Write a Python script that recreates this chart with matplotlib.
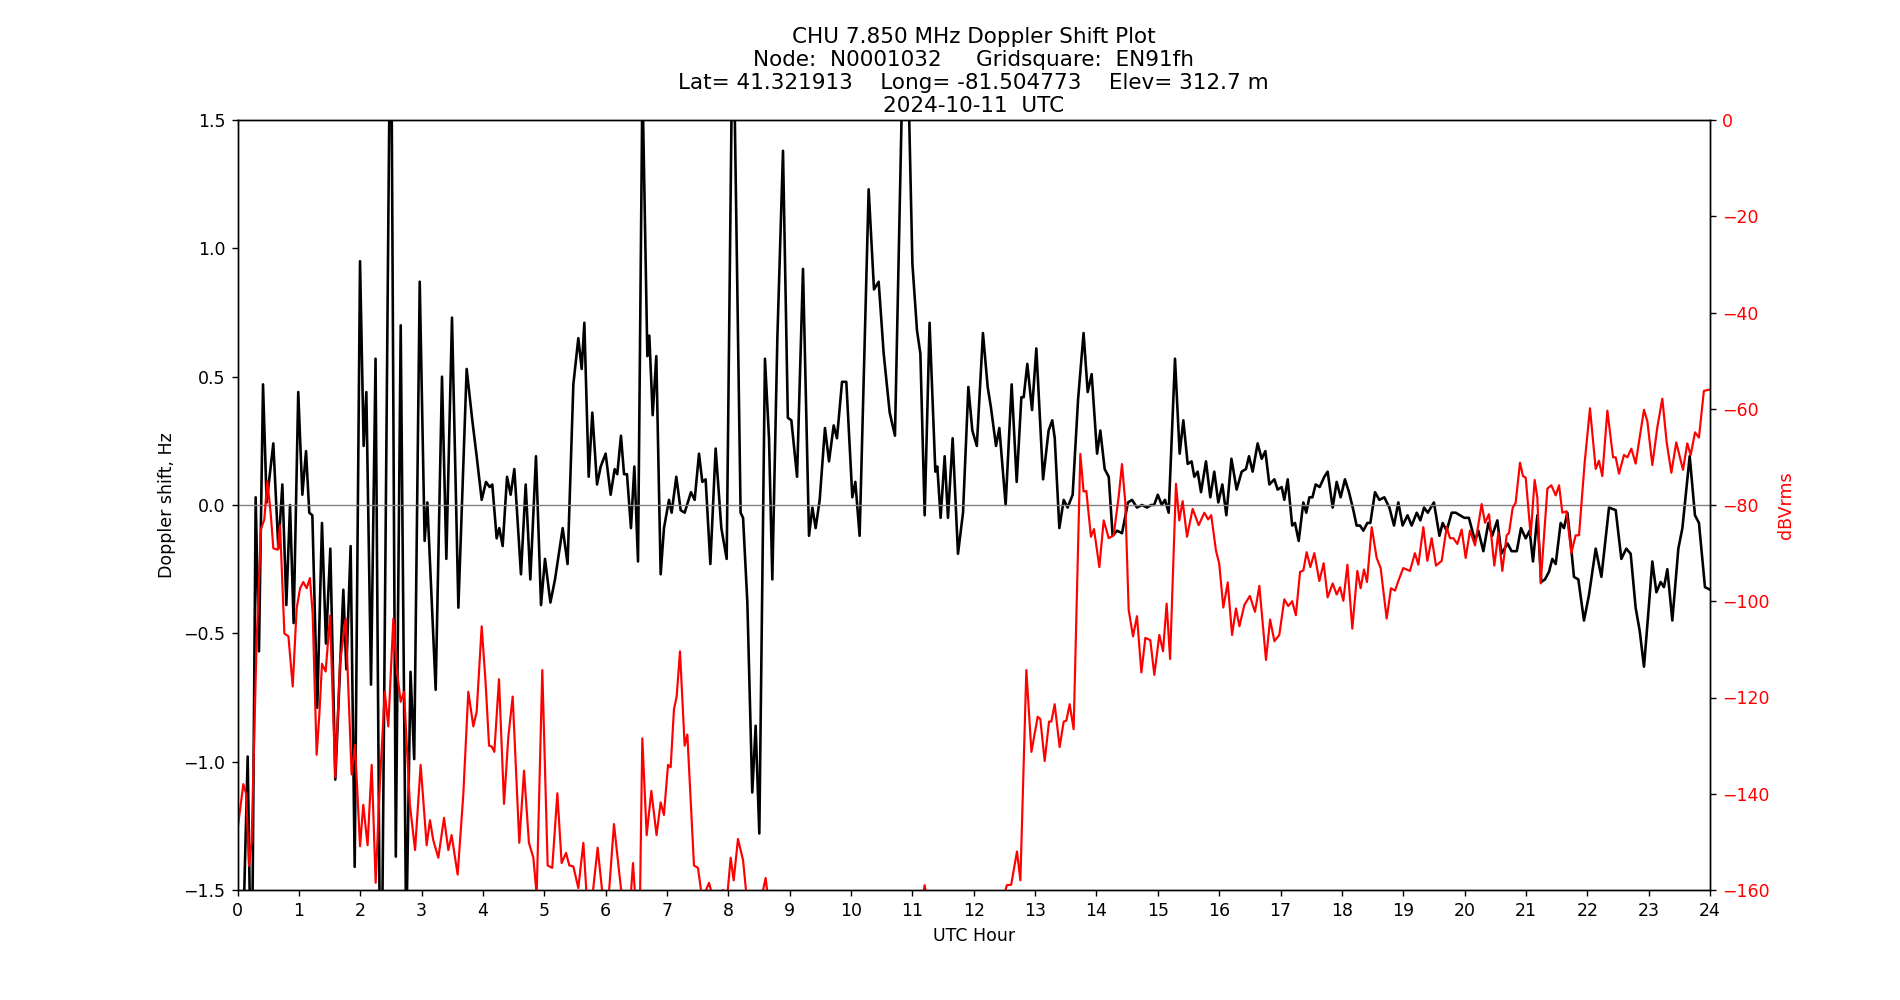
"""
CHU Doppler shift plot for one day (node N0001032).
Left axis: Doppler shift (Hz), right axis: received level (dBVrms).
"""

import matplotlib
matplotlib.use("Agg")
import matplotlib.pyplot as plt

TITLE = (
    "CHU 7.850 MHz Doppler Shift Plot\n"
    "Node:  N0001032     Gridsquare:  EN91fh\n"
    "Lat= 41.321913    Long= -81.504773    Elev= 312.7 m\n"
    "2024-10-11  UTC"
)

# Doppler shift trace (UTC hour, Hz)
doppler_hours = [
    0.0, 0.1, 0.166, 0.21, 0.24, 0.296, 0.35, 0.416, 0.475, 0.584, 0.666, 0.731,
    0.796, 0.856, 0.915, 0.99, 1.057, 1.117, 1.17, 1.22, 1.30, 1.377, 1.442,
    1.513, 1.594, 1.725, 1.774, 1.844, 1.91, 1.997, 2.056, 2.10, 2.176, 2.25,
    2.32, 2.36, 2.48, 2.51, 2.58, 2.66, 2.75, 2.82, 2.88, 2.97, 3.05, 3.094,
    3.23, 3.333, 3.404, 3.496, 3.60, 3.735, 3.827, 3.898, 3.98, 4.05, 4.11,
    4.153, 4.224, 4.267, 4.322, 4.393, 4.452, 4.512, 4.62, 4.697, 4.773, 4.865,
    4.947, 5.012, 5.10, 5.175, 5.30, 5.38, 5.474, 5.555, 5.61, 5.653, 5.724,
    5.783, 5.86, 5.92, 6.0, 6.082, 6.147, 6.19, 6.25, 6.30, 6.348, 6.413, 6.468,
    6.528, 6.60, 6.68, 6.712, 6.767, 6.826, 6.897, 6.951, 7.033, 7.076, 7.152,
    7.223, 7.288, 7.391, 7.451, 7.522, 7.576, 7.63, 7.707, 7.793, 7.886, 7.973,
    8.06, 8.10, 8.20, 8.24, 8.31, 8.39, 8.445, 8.505, 8.597, 8.663, 8.717,
    8.799, 8.891, 8.97, 9.027, 9.12, 9.217, 9.315, 9.37, 9.423, 9.489, 9.575,
    9.641, 9.717, 9.771, 9.853, 9.923, 10.021, 10.07, 10.14, 10.287, 10.374,
    10.45, 10.532, 10.63, 10.716, 10.84, 10.93, 11.0, 11.075, 11.13, 11.2,
    11.28, 11.374, 11.406, 11.46, 11.526, 11.58, 11.656, 11.743, 11.825,
    11.912, 11.977, 12.05, 12.15, 12.227, 12.28, 12.363, 12.417, 12.52, 12.618,
    12.70, 12.776, 12.814, 12.873, 12.95, 13.02, 13.13, 13.22, 13.28, 13.32,
    13.395, 13.466, 13.53, 13.612, 13.70, 13.79, 13.857, 13.922, 14.01, 14.063,
    14.134, 14.20, 14.264, 14.335, 14.416, 14.514, 14.58, 14.66, 14.742,
    14.824, 14.89, 14.94, 15.0, 15.063, 15.117, 15.177, 15.28, 15.356, 15.416,
    15.487, 15.55, 15.595, 15.65, 15.704, 15.785, 15.856, 15.92, 15.986,
    16.052, 16.117, 16.20, 16.285, 16.367, 16.437, 16.486, 16.546, 16.627,
    16.693, 16.753, 16.818, 16.90, 16.953, 17.019, 17.062, 17.117, 17.19,
    17.236, 17.296, 17.372, 17.42, 17.47, 17.52, 17.573, 17.638, 17.714,
    17.768, 17.85, 17.915, 17.98, 18.05, 18.116, 18.187, 18.24, 18.295, 18.35,
    18.415, 18.464, 18.54, 18.61, 18.692, 18.774, 18.85, 18.92, 18.99, 19.07,
    19.137, 19.22, 19.279, 19.34, 19.40, 19.50, 19.59, 19.643, 19.708, 19.79,
    19.855, 19.925, 19.996, 20.07, 20.17, 20.224, 20.306, 20.387, 20.45,
    20.534, 20.60, 20.70, 20.767, 20.85, 20.92, 20.996, 21.06, 21.115, 21.186,
    21.25, 21.31, 21.376, 21.43, 21.485, 21.566, 21.62, 21.675, 21.73, 21.783,
    21.854, 21.946, 22.028, 22.137, 22.23, 22.354, 22.463, 22.555, 22.636,
    22.707, 22.788, 22.854, 22.924, 22.995, 23.06, 23.126, 23.196, 23.25,
    23.305, 23.386, 23.484, 23.55, 23.669, 23.755, 23.82, 23.918, 24.0,
]
doppler_hz = [
    -1.7, -1.6, -0.98, -1.7, -1.7, 0.03, -0.57, 0.47, 0.01, 0.24, -0.17, 0.08,
    -0.39, 0.0, -0.46, 0.44, 0.04, 0.21, -0.03, -0.04, -0.79, -0.07, -0.54,
    -0.17, -1.07, -0.33, -0.64, -0.16, -1.41, 0.95, 0.23, 0.44, -0.70, 0.57,
    -1.7, -1.6, 1.7, 1.7, -1.37, 0.70, -1.7, -0.65, -0.99, 0.87, -0.14, 0.01,
    -0.72, 0.50, -0.21, 0.73, -0.40, 0.53, 0.33, 0.19, 0.02, 0.09, 0.07,
    0.08, -0.13, -0.09, -0.16, 0.11, 0.04, 0.14, -0.27, 0.08, -0.29, 0.19,
    -0.39, -0.21, -0.38, -0.29, -0.09, -0.23, 0.47, 0.65, 0.53, 0.71, 0.11,
    0.36, 0.08, 0.15, 0.20, 0.04, 0.14, 0.12, 0.27, 0.12, 0.12, -0.09, 0.15,
    -0.22, 1.65, 0.58, 0.66, 0.35, 0.58, -0.27, -0.09, 0.02, -0.03, 0.11,
    -0.02, -0.03, 0.05, 0.02, 0.20, 0.09, 0.10, -0.23, 0.22, -0.09, -0.21,
    1.7, 1.6, -0.03, -0.05, -0.38, -1.12, -0.86, -1.28, 0.57, 0.26, -0.29,
    0.65, 1.38, 0.34, 0.33, 0.11, 0.92, -0.12, -0.01, -0.09, 0.02, 0.30,
    0.17, 0.31, 0.26, 0.48, 0.48, 0.03, 0.09, -0.12, 1.23, 0.84,
    0.87, 0.59, 0.36, 0.27, 1.7, 1.7, 0.94, 0.68, 0.59, -0.04,
    0.71, 0.13, 0.15, -0.05, 0.19, -0.05, 0.26, -0.19, -0.03,
    0.46, 0.29, 0.23, 0.67, 0.46, 0.38, 0.23, 0.30, 0.0, 0.47,
    0.09, 0.42, 0.42, 0.55, 0.37, 0.61, 0.10, 0.29, 0.33, 0.26,
    -0.09, 0.02, -0.01, 0.04, 0.41, 0.67, 0.44, 0.51, 0.20, 0.29,
    0.14, 0.11, -0.12, -0.10, -0.11, 0.01, 0.02, -0.01, 0.0,
    -0.01, 0.0, 0.0, 0.04, 0.0, 0.02, -0.03, 0.57, 0.20, 0.33,
    0.16, 0.17, 0.11, 0.13, 0.05, 0.17, 0.03, 0.13, 0.01,
    0.08, -0.04, 0.18, 0.06, 0.13, 0.14, 0.19, 0.13, 0.24,
    0.18, 0.21, 0.08, 0.10, 0.06, 0.07, 0.02, 0.10, -0.08,
    -0.07, -0.14, 0.01, -0.03, 0.03, 0.03, 0.08, 0.07, 0.11,
    0.13, -0.01, 0.09, 0.03, 0.10, 0.05, -0.02, -0.08, -0.08, -0.10,
    -0.07, -0.07, 0.05, 0.02, 0.03, -0.01, -0.08, 0.01, -0.08, -0.04,
    -0.08, -0.03, -0.06, -0.01, -0.03, 0.01, -0.12, -0.07, -0.10, -0.03,
    -0.03, -0.04, -0.05, -0.05, -0.14, -0.10, -0.18, -0.07, -0.12,
    -0.06, -0.19, -0.15, -0.18, -0.18, -0.09, -0.13, -0.10, -0.22, -0.04,
    -0.30, -0.29, -0.26, -0.21, -0.23, -0.07, -0.09, -0.03, -0.15, -0.28,
    -0.29, -0.45, -0.35, -0.17, -0.28, -0.01, -0.02, -0.21, -0.17,
    -0.19, -0.40, -0.49, -0.63, -0.42, -0.22, -0.34, -0.30, -0.32,
    -0.25, -0.45, -0.17, -0.09, 0.19, -0.04, -0.07, -0.32, -0.33,
]

# Received level trace (UTC hour, dBVrms)
power_hours = [
    0.0, 0.095, 0.14, 0.188, 0.23, 0.31, 0.383, 0.437, 0.486, 0.54, 0.584,
    0.655, 0.693, 0.764, 0.83, 0.90, 0.964, 1.02, 1.073, 1.127, 1.18, 1.225,
    1.29, 1.334, 1.377, 1.437, 1.508, 1.594, 1.67, 1.763, 1.86, 1.915, 1.997,
    2.05, 2.12, 2.187, 2.252, 2.32, 2.40, 2.458, 2.54, 2.594, 2.66, 2.714,
    2.81, 2.894, 2.985, 3.083, 3.137, 3.19, 3.273, 3.366, 3.436, 3.49, 3.588,
    3.68, 3.762, 3.844, 3.898, 3.98, 4.045, 4.10, 4.143, 4.186, 4.262, 4.344,
    4.414, 4.485, 4.593, 4.67, 4.75, 4.822, 4.876, 4.968, 5.055, 5.13, 5.213,
    5.283, 5.355, 5.408, 5.474, 5.555, 5.637, 5.69, 5.77, 5.87, 5.946, 6.04,
    6.136, 6.218, 6.28, 6.40, 6.446, 6.49, 6.56, 6.598, 6.669, 6.745, 6.83,
    6.897, 6.95, 7.017, 7.06, 7.114, 7.158, 7.212, 7.288, 7.332, 7.44, 7.505,
    7.576, 7.685, 7.78, 7.913, 7.97, 8.038, 8.087, 8.157, 8.24, 8.31, 8.50,
    8.608, 8.66, 9.5, 10.5, 11.15, 11.2, 11.25, 12.0, 12.45, 12.54, 12.61,
    12.705, 12.76, 12.857, 12.94, 13.042, 13.085, 13.156, 13.227, 13.265,
    13.319, 13.40, 13.466, 13.51, 13.563, 13.628, 13.737, 13.79, 13.835,
    13.91, 13.96, 14.047, 14.118, 14.20, 14.28, 14.362, 14.416, 14.47,
    14.525, 14.596, 14.66, 14.732, 14.797, 14.878, 14.943, 15.025, 15.085,
    15.144, 15.20, 15.296, 15.35, 15.405, 15.476, 15.568, 15.666, 15.758,
    15.82, 15.87, 15.948, 16.0, 16.068, 16.14, 16.21, 16.274, 16.33, 16.41,
    16.50, 16.584, 16.655, 16.763, 16.83, 16.90, 16.98, 17.062, 17.127,
    17.19, 17.25, 17.318, 17.372, 17.426, 17.486, 17.551, 17.633, 17.703,
    17.768, 17.85, 17.915, 17.97, 18.024, 18.09, 18.17, 18.252, 18.306,
    18.36, 18.41, 18.486, 18.567, 18.632, 18.73, 18.80, 18.866, 18.92, 19.0,
    19.11, 19.19, 19.246, 19.328, 19.393, 19.464, 19.534, 19.627, 19.708,
    19.762, 19.817, 19.882, 19.952, 20.018, 20.088, 20.17, 20.278, 20.333,
    20.398, 20.485, 20.55, 20.615, 20.686, 20.724, 20.784, 20.833, 20.903,
    20.952, 20.996, 21.077, 21.142, 21.186, 21.24, 21.35, 21.414, 21.485,
    21.54, 21.593, 21.66, 21.74, 21.81, 21.865, 21.957, 22.044, 22.137,
    22.19, 22.245, 22.327, 22.42, 22.463, 22.517, 22.598, 22.653, 22.718,
    22.788, 22.924, 22.979, 23.06, 23.142, 23.223, 23.294, 23.37, 23.45,
    23.56, 23.63, 23.685, 23.756, 23.82, 23.90, 24.0,
]
power_db = [
    -147.5, -138, -140, -155, -150, -109, -85, -83, -75, -81.6, -89,
    -89.3, -84.2, -106.7, -107.3, -117.7, -101.5, -97.3, -96, -97.3, -95.2, -102.6,
    -131.9, -123.5, -113, -114.6, -103, -136.6, -113, -103.6, -136, -129.8, -150.9,
    -142.3, -150.7, -134, -158.5, -138, -118.8, -126, -103.6, -114, -120.9, -118.8,
    -142.3, -151.7, -134, -150.7, -145.5, -149.6, -153.3, -145, -151.7, -148.6, -156.8,
    -140.2, -118.8, -126, -123, -105.2, -117.2, -130, -130.2, -131.3, -116.2, -142.1,
    -128.2, -119.8, -150.2, -135.2, -150.2, -153.3, -161, -114.3, -154.9, -155.4, -139.9,
    -154.4, -152.3, -154.9, -155.1, -159.6, -150.2, -161, -163, -151.2, -160.5, -163,
    -146.3, -156, -163, -163, -154.4, -163, -162, -128.5, -148.6, -139.4, -148.6,
    -141.8, -144.4, -134, -134.5, -122.4, -119.8, -110.4, -130, -127.7, -154.9, -155.4,
    -162, -158.5, -163, -160, -163, -153.3, -158, -149.4, -153.8, -163, -164,
    -157.5, -163, -165, -165, -163, -159, -163, -165, -163, -159, -158.9,
    -152, -158, -114.3, -131.3, -124, -124.5, -133.2, -125, -125,
    -121.4, -130.3, -125, -124.8, -121.4, -126.6, -69.4, -77.2, -77.1,
    -86.6, -85, -92.9, -83.2, -86.9, -86.3, -78.3, -71.5, -79.5,
    -101.8, -107.3, -103.1, -114.8, -107.6, -108.1, -115.3, -107, -110.4,
    -100.5, -112, -75.6, -83.2, -79.2, -86.6, -80.8, -84.2, -81.6,
    -83, -82.1, -89.5, -92.1, -101.3, -96.1, -107, -101.5, -105.2, -100.8,
    -98.9, -102.2, -96.8, -112.2, -103.8, -108.3, -107, -99.6, -101,
    -100, -102.9, -93.9, -93.6, -89.8, -92.9, -90, -95.8, -92.1,
    -99.2, -96.3, -98.6, -97.1, -99.9, -92.4, -105.7, -93.7, -97.3,
    -93.4, -96, -84.6, -91, -93.1, -103.6, -97.3, -97.8, -95.8, -93.1,
    -93.7, -90, -92.4, -84.6, -91.6, -86.9, -92.6, -91.6, -84.6,
    -86.9, -86.9, -88.1, -85.1, -91, -85.3, -88.4, -79.8, -83.7,
    -81.9, -92.6, -85.8, -93.7, -86.3, -85.8, -80.6, -79.5, -71.2,
    -74, -74.3, -86.3, -74.8, -78.5, -96.3, -76.6, -75.9, -78,
    -75.9, -81.6, -81.3, -90, -86.3, -86.3, -71.2, -59.9, -72.5,
    -70.8, -74, -60.4, -70.1, -70.1, -73.5, -69.6, -70.1, -68.3,
    -71.4, -60.2, -62.6, -71.7, -63.8, -57.9, -67, -73.3, -67,
    -72.7, -67.2, -69.6, -64.9, -66, -56.3, -56,
]


def main():
    fig, ax = plt.subplots(figsize=(15.2, 8), dpi=125)

    ax.plot(doppler_hours, doppler_hz, color="black", linewidth=1.5)
    ax.axhline(0, color="grey", linewidth=0.8)
    ax.set_xlim(0, 24)
    ax.set_ylim(-1.5, 1.5)
    ax.set_xticks(range(0, 25))
    ax.set_xlabel("UTC Hour")
    ax.set_ylabel("Doppler shift, Hz")
    ax.set_title(TITLE, fontsize=12.4, pad=4.5)

    ax2 = ax.twinx()
    ax2.plot(power_hours, power_db, color="red", linewidth=1.25)
    ax2.set_ylim(-160, 0)
    ax2.set_ylabel("dBVrms", color="red")
    ax2.tick_params(axis="y", labelcolor="red")

    fig.savefig("out.png", dpi=125)


if __name__ == "__main__":
    main()
